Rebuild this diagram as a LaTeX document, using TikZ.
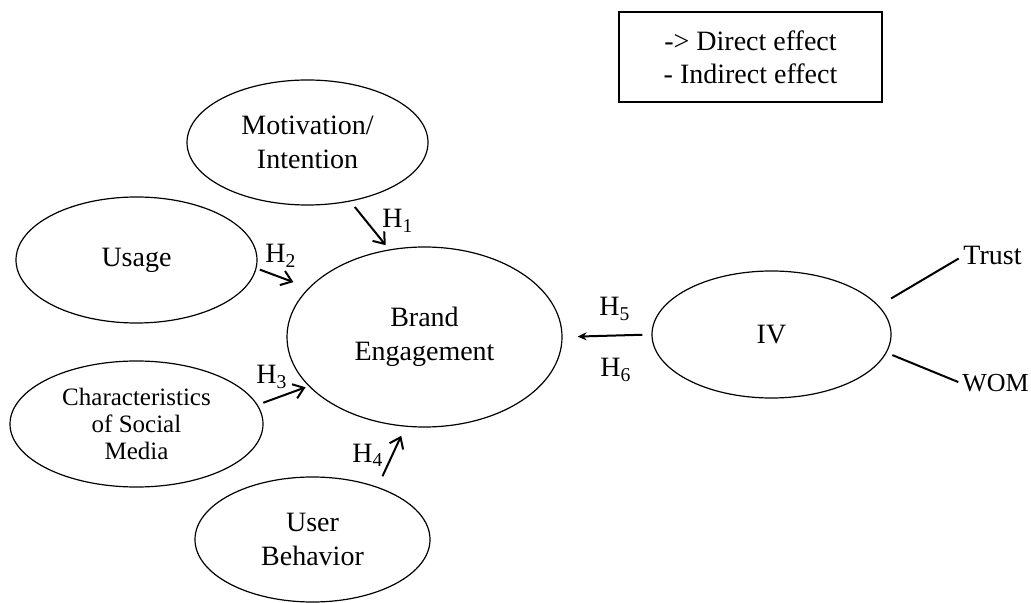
\documentclass[tikz,border=0pt]{standalone}
\usepackage{fontspec}
\setmainfont{Liberation Serif}
\usetikzlibrary{
  arrows.meta,
  positioning,
  shapes.geometric
}

\begin{document}
\begin{tikzpicture}[
      x=0.5pt, y=-0.5pt,
      elipse/.style={draw, ellipse, line width=0.6pt, inner sep=0pt, align=center, font=\fontsize{14}{17}\selectfont},
      efeito/.style={-{Straight Barb[length=5pt, width=7.5pt]}, line width=1pt},
      ligacao/.style={line width=1pt},
      rotulo/.style={anchor=base west, inner sep=0pt, font=\fontsize{14}{17}\selectfont},
      legenda/.style={draw, line width=0.6pt, minimum width=131.5pt, minimum height=45pt, align=center, font=\fontsize{14}{16.5}\selectfont}
  ]
      \useasboundingbox (0,0) rectangle (1031,603);

      % Construtos
      \node[elipse, minimum width=120.5pt, minimum height=62.5pt] (mot) at (307.5,142.5) {Motivation/\\Intention};
      \node[elipse, minimum width=120.5pt, minimum height=63pt] (usage) at (136.5,260) {Usage};
      \node[elipse, minimum width=137.5pt, minimum height=90pt] (brand) at (424.5,337) {Brand\\Engagement};
      \node[elipse, minimum width=126.5pt, minimum height=63pt, font=\fontsize{12.5}{13.5}\selectfont] (char) at (136.5,424) {Characteristics\\of Social\\Media};
      \node[elipse, minimum width=117.5pt, minimum height=62.5pt] (user) at (312.5,539.5) {User\\Behavior};
      \node[elipse, minimum width=119.5pt, minimum height=63.5pt] (iv) at (771.5,334.5) {IV};
      \node[rotulo] (trust) at (963,265) {Trust};
      \node[rotulo, font=\fontsize{13}{16}\selectfont] (wom) at (962,392) {WOM};

      % Legenda
      \node[legenda] (leg) at (750.5,57) {-> Direct effect\\- Indirect effect};

      % Hipoteses
      \draw[efeito, shorten <=3.5pt, shorten >=2.7pt] (mot.-54.8) -- (brand.112.2);
      \draw[efeito, shorten <=1.75pt, shorten >=8.1pt] (usage.-4.7) -- (brand.157.7);
      \draw[efeito, shorten <=3pt, shorten >=1.6pt] (char.9) -- (brand.203.5);
      \draw[efeito, shorten <=5.8pt, shorten >=5pt] (user.39) -- (brand.258.9);
      \draw[efeito, -{Stealth[length=4.5pt, width=4pt]}, shorten <=4.5pt, shorten >=7.5pt] (iv.west) -- (brand.east);

      \node[rotulo] (h1) at (382,228) {H\textsubscript{1}};
      \node[rotulo] (h2) at (265,263) {H\textsubscript{2}};
      \node[rotulo] (h3) at (256,384) {H\textsubscript{3}};
      \node[rotulo] (h4) at (352,462) {H\textsubscript{4}};
      \node[rotulo] (h5) at (599,316) {H\textsubscript{5}};
      \node[rotulo] (h6) at (600,377) {H\textsubscript{6}};

      % Indicadores do IV
      \draw[ligacao, shorten <=7.1pt, shorten >=2.5pt] (iv.15.7) -- (trust.west);
      \draw[ligacao, shorten <=3.1pt, shorten >=2pt] (iv.-9.2) -- (wom.west);
  \end{tikzpicture}
\end{document}
